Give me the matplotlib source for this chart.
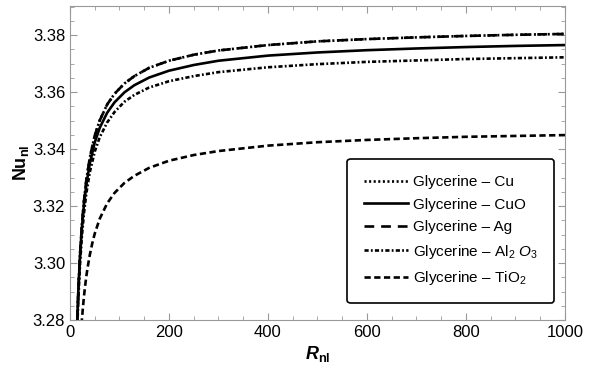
import matplotlib
matplotlib.use("Agg")
import matplotlib.pyplot as plt
from matplotlib.ticker import MultipleLocator, FormatStrFormatter

plt.rcParams["font.family"] = ["Liberation Sans", "DejaVu Sans"]
plt.rcParams["mathtext.fontset"] = "custom"
plt.rcParams["mathtext.rm"] = "Liberation Sans"
plt.rcParams["mathtext.it"] = "Liberation Sans:italic"
plt.rcParams["mathtext.bf"] = "Liberation Sans:bold"
plt.rcParams["mathtext.bfit"] = "Liberation Sans:bold:italic"
plt.rcParams["lines.scale_dashes"] = False

# values
R_nl = [13, 15, 17, 20, 24, 28, 33, 40, 50, 60, 75, 90, 110, 130, 160, 200,
        250, 300, 400, 500, 600, 700, 800, 900, 1000]
nu_cu = [3.2683, 3.2809, 3.2907, 3.3021, 3.3132, 3.3214, 3.3291, 3.3369, 3.3447,
         3.3500, 3.3556, 3.3594, 3.3630, 3.3656, 3.3685, 3.3710, 3.3731, 3.3746,
         3.3765, 3.3778, 3.3786, 3.3792, 3.3797, 3.3801, 3.3804]
nu_ag = list(nu_cu)
nu_cuo = [3.2694, 3.2813, 3.2907, 3.3016, 3.3122, 3.3200, 3.3274, 3.3349, 3.3423,
          3.3474, 3.3527, 3.3564, 3.3599, 3.3624, 3.3651, 3.3675, 3.3695, 3.3710,
          3.3728, 3.3739, 3.3747, 3.3753, 3.3758, 3.3762, 3.3765]
nu_al = [3.2664, 3.2783, 3.2877, 3.2986, 3.3092, 3.3170, 3.3244, 3.3318, 3.3391,
         3.3441, 3.3493, 3.3530, 3.3566, 3.3590, 3.3616, 3.3638, 3.3656, 3.3670,
         3.3687, 3.3698, 3.3706, 3.3711, 3.3716, 3.3719, 3.3722]

R_ti = [22, 24, 26, 28, 30, 33, 36, 40, 45, 50, 60, 75, 90, 110, 130, 160, 200,
        250, 300, 400, 500, 600, 700, 800, 900, 1000]
nu_ti = [3.2750, 3.2799, 3.2841, 3.2878, 3.2911, 3.2953, 3.2988, 3.3028, 3.3069,
         3.3103, 3.3155, 3.3209, 3.3246, 3.3281, 3.3306, 3.3334, 3.3359, 3.3379,
         3.3393, 3.3412, 3.3424, 3.3432, 3.3438, 3.3443, 3.3446, 3.3449]

labels = ["Glycerine \u2013 Cu", "Glycerine \u2013 CuO", "Glycerine \u2013 Ag",
          "Glycerine \u2013 Al$_2$ $O_3$", "Glycerine \u2013 TiO$_2$"]

fig = plt.figure(figsize=(5.9, 3.72), dpi=100)
ax = fig.add_axes([0.1186, 0.1398, 0.839, 0.844])

lw = 1.9
ax.plot(R_nl, nu_cu, color="black", lw=lw, linestyle=(0, (1.5, 1.8)), label=labels[0])
ax.plot(R_nl, nu_cuo, color="black", lw=lw, linestyle="-", label=labels[1])
ax.plot(R_nl, nu_ag, color="black", lw=lw, linestyle=(0, (7, 5)), label=labels[2])
ax.plot(R_nl, nu_al, color="black", lw=lw, linestyle=(0, (3, 1.6, 1.3, 1.6)), label=labels[3])
ax.plot(R_ti, nu_ti, color="black", lw=lw, linestyle=(0, (4.5, 2.5)), label=labels[4])

ax.set_xlim(0, 1000)
ax.set_ylim(3.28, 3.3902)
ax.xaxis.set_major_locator(MultipleLocator(200))
ax.xaxis.set_minor_locator(MultipleLocator(50))
ax.yaxis.set_major_locator(MultipleLocator(0.02))
ax.yaxis.set_minor_locator(MultipleLocator(0.005))
ax.yaxis.set_major_formatter(FormatStrFormatter("%.2f"))
ax.tick_params(which="both", direction="in", top=True, right=True, color="#999999",
               labelsize=12)
ax.tick_params(which="major", length=5)
ax.tick_params(which="minor", length=3)
for s in ax.spines.values():
    s.set_color("#999999")
    s.set_linewidth(0.8)

ax.set_xlabel(r"$\mathbfit{R}_{\mathbf{nl}}$", fontsize=13, labelpad=3)
ax.set_ylabel(r"$\mathbf{Nu}_{\mathbf{nl}}$", fontsize=13, labelpad=1)

leg = ax.legend(loc="lower right", bbox_to_anchor=(0.978, 0.054), fontsize=11,
                handlelength=2.9, handletextpad=0.35, labelspacing=0.55,
                borderpad=1.05, borderaxespad=0, fancybox=True, framealpha=1)
leg.get_frame().set_edgecolor("black")
leg.get_frame().set_linewidth(1.2)

fig.savefig("out.png", dpi=100)
